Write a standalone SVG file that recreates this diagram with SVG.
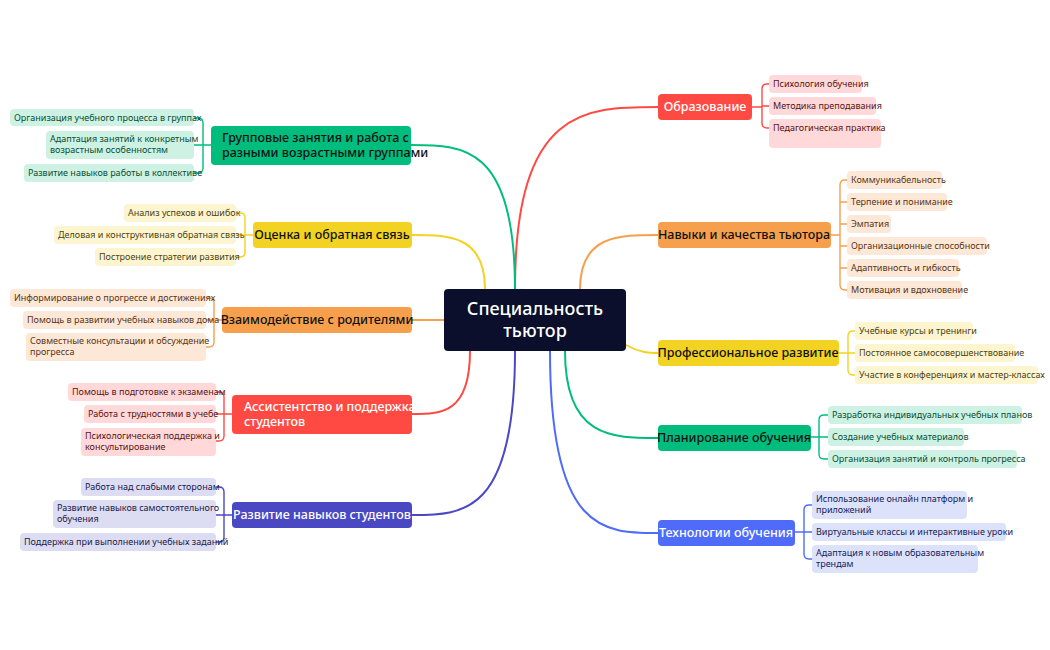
<svg xmlns="http://www.w3.org/2000/svg" width="1050" height="650" viewBox="0 0 1050 650">
<style>
text{font-family:"Noto Sans","Liberation Sans",sans-serif}
.m{font-size:12.5px;font-weight:500}
.c{font-size:9px}
.w{fill:#fff}.k{fill:#111}
.ln{fill:none;stroke-width:2;stroke-linecap:round;stroke-linejoin:round}
.lc{fill:none;stroke-width:1.4;stroke-linejoin:round}
.r1{fill:#ff4a43}.r2{fill:#ffd9d9}.rt{fill:#5a1414}
.o1{fill:#f6a04d}.o2{fill:#fde8d8}.ot{fill:#5a3410}
.y1{fill:#f2d324}.y2{fill:#fdf5d0}.yt{fill:#4e4210}
.g1{fill:#00bd7e}.g2{fill:#cdf2e3}.gt{fill:#0b4d35}
.b1{fill:#4f6bfa}.b2{fill:#dde2fb}.bt{fill:#141c5a}
.i1{fill:#4b48c3}.i2{fill:#dcdcf2}.it{fill:#1c1a4a}
</style>
<g id="connectors">
<path class="ln" stroke="#ff4a43" d="M515 289 C515 107,586 107,658 107"/>
<path class="ln" stroke="#f6a04d" d="M580 289 C580 235,619 235,658 235"/>
<path class="ln" stroke="#f2d324" d="M626 345 C640 353,650 353,658 353"/>
<path class="ln" stroke="#00bd7e" d="M565 351 C565 438,612 438,658 438"/>
<path class="ln" stroke="#4f6bfa" d="M550 351 C550 533,604 533,658 533"/>
<path class="ln" stroke="#00bd7e" d="M515 289 C515 145,463 145,411 145"/>
<path class="ln" stroke="#f2d324" d="M485 289 C485 235,448 235,412 235"/>
<path class="ln" stroke="#f6a04d" d="M444 320 L412 320"/>
<path class="ln" stroke="#ff4a43" d="M470 351 C470 414,441 414,412 414"/>
<path class="ln" stroke="#4b48c3" d="M515 351 C515 515,463 515,412 515"/>
<path class="lc" stroke="#ff4a43" d="M752 107H762M769 84H767Q762 84 762 89V123Q762 128 767 128H769M762 106H769"/>
<path class="lc" stroke="#f6a04d" d="M831 235H840M847 180H845Q840 180 840 185V285Q840 290 845 290H847M840 202H847M840 224H847M840 246H847M840 268H847"/>
<path class="lc" stroke="#f2d324" d="M839 353H855M855 331H853Q848 331 848 336V370Q848 375 853 375H855"/>
<path class="lc" stroke="#00bd7e" d="M811 437H828M828 415H824Q819 415 819 420V454Q819 459 824 459H828"/>
<path class="lc" stroke="#4f6bfa" d="M795 532H812M812 505H809Q804 505 804 510V554Q804 559 809 559H812"/>
<path class="lc" stroke="#00bd7e" d="M211 145H194M194 118H198Q203 118 203 123V168Q203 173 198 173H194"/>
<path class="lc" stroke="#f2d324" d="M253 235H236M236 213H240Q245 213 245 218V252Q245 257 240 257H236"/>
<path class="lc" stroke="#f6a04d" d="M222 320H206M206 298H209Q214 298 214 303V342Q214 347 209 347H206"/>
<path class="lc" stroke="#ff4a43" d="M232 414H216M216 392H219Q224 392 224 397V436Q224 441 219 441H216"/>
<path class="lc" stroke="#4b48c3" d="M232 515H216M216 487H219Q224 487 224 492V537Q224 542 219 542H216"/>
</g>
<g id="center"><rect x="444" y="289" width="182" height="62" rx="4" fill="#0b0f2c"/><text x="535" y="315" class="w" font-size="18" font-weight="500" text-anchor="middle" style="font-size:18px">Специальность</text><text x="535" y="337" class="w" text-anchor="middle" style="font-size:18px;font-weight:500">тьютор</text></g>
<g id="n1"><rect class="r1" x="658" y="94" width="94" height="26" rx="4"/><text class="m w" x="705" y="111" text-anchor="middle">Образование</text></g>
<g id="n1a"><rect class="r2" x="769" y="75" width="93" height="18" rx="4"/><text class="c rt" x="773" y="87">Психология обучения</text></g>
<g id="n1b"><rect class="r2" x="769" y="97" width="107" height="18" rx="4"/><text class="c rt" x="773" y="109">Методика преподавания</text></g>
<g id="n1c"><rect class="r2" x="769" y="119" width="112" height="29" rx="4"/><text class="c rt" x="773" y="131">Педагогическая практика</text></g>
<g id="n2"><rect class="o1" x="658" y="222" width="173" height="26" rx="4"/><text class="m k" x="744" y="239" text-anchor="middle">Навыки и качества тьютора</text></g>
<g id="n2a"><rect class="o2" x="847" y="171" width="95" height="18" rx="4"/><text class="c ot" x="851" y="183">Коммуникабельность</text></g>
<g id="n2b"><rect class="o2" x="847" y="193" width="100" height="18" rx="4"/><text class="c ot" x="851" y="205">Терпение и понимание</text></g>
<g id="n2c"><rect class="o2" x="847" y="215" width="44" height="18" rx="4"/><text class="c ot" x="851" y="227">Эмпатия</text></g>
<g id="n2d"><rect class="o2" x="847" y="237" width="140" height="18" rx="4"/><text class="c ot" x="851" y="249">Организационные способности</text></g>
<g id="n2e"><rect class="o2" x="847" y="259" width="112" height="18" rx="4"/><text class="c ot" x="851" y="271">Адаптивность и гибкость</text></g>
<g id="n2f"><rect class="o2" x="847" y="281" width="115" height="18" rx="4"/><text class="c ot" x="851" y="293">Мотивация и вдохновение</text></g>
<g id="n3"><rect class="y1" x="658" y="340" width="181" height="26" rx="4"/><text class="m k" x="748" y="357" text-anchor="middle">Профессиональное развитие</text></g>
<g id="n3a"><rect class="y2" x="855" y="322" width="118" height="18" rx="4"/><text class="c yt" x="859" y="334">Учебные курсы и тренинги</text></g>
<g id="n3b"><rect class="y2" x="855" y="344" width="160" height="18" rx="4"/><text class="c yt" x="859" y="356">Постоянное самосовершенствование</text></g>
<g id="n3c"><rect class="y2" x="855" y="366" width="183" height="18" rx="4"/><text class="c yt" x="859" y="378">Участие в конференциях и мастер-классах</text></g>
<g id="n4"><rect class="g1" x="658" y="425" width="153" height="26" rx="4"/><text class="m k" x="734" y="442" text-anchor="middle">Планирование обучения</text></g>
<g id="n4a"><rect class="g2" x="828" y="406" width="194" height="18" rx="4"/><text class="c gt" x="832" y="418">Разработка индивидуальных учебных планов</text></g>
<g id="n4b"><rect class="g2" x="828" y="428" width="136" height="18" rx="4"/><text class="c gt" x="832" y="440">Создание учебных материалов</text></g>
<g id="n4c"><rect class="g2" x="828" y="450" width="189" height="18" rx="4"/><text class="c gt" x="832" y="462">Организация занятий и контроль прогресса</text></g>
<g id="n5"><rect class="b1" x="658" y="520" width="137" height="26" rx="4"/><text class="m w" x="726" y="537" text-anchor="middle">Технологии обучения</text></g>
<g id="n5a"><rect class="b2" x="812" y="491" width="155" height="28" rx="4"/><text class="c bt" x="816" y="502">Использование онлайн платформ и</text><text class="c bt" x="816" y="513">приложений</text></g>
<g id="n5b"><rect class="b2" x="812" y="523" width="194" height="18" rx="4"/><text class="c bt" x="816" y="535">Виртуальные классы и интерактивные уроки</text></g>
<g id="n5c"><rect class="b2" x="812" y="545" width="166" height="28" rx="4"/><text class="c bt" x="816" y="556">Адаптация к новым образовательным</text><text class="c bt" x="816" y="567">трендам</text></g>
<g id="n6"><rect class="g1" x="211" y="126" width="200" height="39" rx="4"/><text class="m k" x="222" y="142">Групповые занятия и работа с</text><text class="m k" x="222" y="157">разными возрастными группами</text></g>
<g id="n6a"><rect class="g2" x="10" y="109" width="184" height="17" rx="4"/><text class="c gt" x="14" y="121">Организация учебного процесса в группах</text></g>
<g id="n6b"><rect class="g2" x="46" y="131" width="148" height="28" rx="4"/><text class="c gt" x="50" y="142">Адаптация занятий к конкретным</text><text class="c gt" x="50" y="153">возрастным особенностям</text></g>
<g id="n6c"><rect class="g2" x="24" y="164" width="170" height="18" rx="4"/><text class="c gt" x="28" y="176">Развитие навыков работы в коллективе</text></g>
<g id="n7"><rect class="y1" x="253" y="222" width="159" height="26" rx="4"/><text class="m k" x="332" y="239" text-anchor="middle">Оценка и обратная связь</text></g>
<g id="n7a"><rect class="y2" x="124" y="204" width="112" height="18" rx="4"/><text class="c yt" x="128" y="216">Анализ успехов и ошибок</text></g>
<g id="n7b"><rect class="y2" x="54" y="226" width="182" height="18" rx="4"/><text class="c yt" x="58" y="238">Деловая и конструктивная обратная связь</text></g>
<g id="n7c"><rect class="y2" x="95" y="248" width="141" height="18" rx="4"/><text class="c yt" x="99" y="260">Построение стратегии развития</text></g>
<g id="n8"><rect class="o1" x="222" y="307" width="190" height="26" rx="4"/><text class="m k" x="317" y="324" text-anchor="middle">Взаимодействие с родителями</text></g>
<g id="n8a"><rect class="o2" x="10" y="289" width="196" height="18" rx="4"/><text class="c ot" x="14" y="301">Информирование о прогрессе и достижениях</text></g>
<g id="n8b"><rect class="o2" x="23" y="311" width="183" height="18" rx="4"/><text class="c ot" x="27" y="323">Помощь в развитии учебных навыков дома</text></g>
<g id="n8c"><rect class="o2" x="26" y="333" width="180" height="28" rx="4"/><text class="c ot" x="30" y="344">Совместные консультации и обсуждение</text><text class="c ot" x="30" y="355">прогресса</text></g>
<g id="n9"><rect class="r1" x="232" y="395" width="180" height="39" rx="4"/><text class="m w" x="244" y="411">Ассистентство и поддержка</text><text class="m w" x="244" y="426">студентов</text></g>
<g id="n9a"><rect class="r2" x="68" y="383" width="148" height="18" rx="4"/><text class="c rt" x="72" y="395">Помощь в подготовке к экзаменам</text></g>
<g id="n9b"><rect class="r2" x="84" y="405" width="132" height="18" rx="4"/><text class="c rt" x="88" y="417">Работа с трудностями в учебе</text></g>
<g id="n9c"><rect class="r2" x="81" y="428" width="135" height="28" rx="4"/><text class="c rt" x="85" y="439">Психологическая поддержка и</text><text class="c rt" x="85" y="450">консультирование</text></g>
<g id="n10"><rect class="i1" x="232" y="502" width="180" height="26" rx="4"/><text class="m w" x="322" y="519" text-anchor="middle">Развитие навыков студентов</text></g>
<g id="n10a"><rect class="i2" x="81" y="478" width="135" height="18" rx="4"/><text class="c it" x="85" y="490">Работа над слабыми сторонам</text></g>
<g id="n10b"><rect class="i2" x="53" y="500" width="163" height="28" rx="4"/><text class="c it" x="57" y="511">Развитие навыков самостоятельного</text><text class="c it" x="57" y="522">обучения</text></g>
<g id="n10c"><rect class="i2" x="20" y="533" width="196" height="18" rx="4"/><text class="c it" x="24" y="545">Поддержка при выполнении учебных заданий</text></g>
</svg>
